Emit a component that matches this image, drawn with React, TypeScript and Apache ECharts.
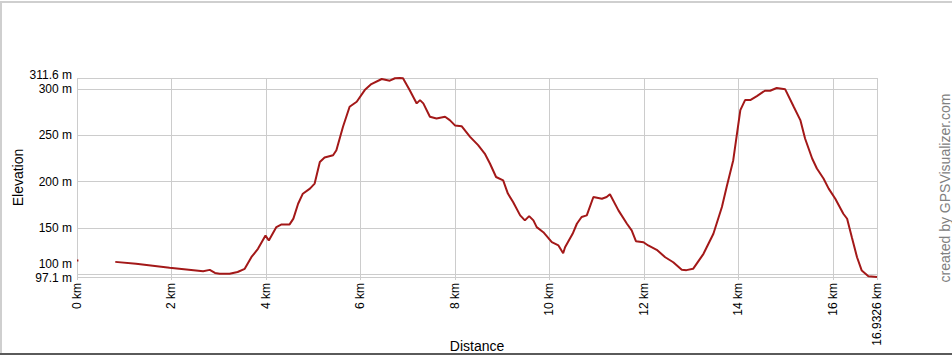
import React, { useEffect, useRef } from "react";
import * as echarts from "echarts";

// Distance along the track (km) and elevation (m); null marks the gap in the track
const distanceKm: number[] = [
  0, 0.03, 0.4, 0.81, 1.25, 1.96, 2.67, 2.81, 2.92, 3.02, 3.23, 3.4, 3.55, 3.69, 3.83, 3.99,
  4.06, 4.22, 4.33, 4.5, 4.58, 4.68, 4.78, 4.93, 5.03, 5.14, 5.24, 5.42, 5.49, 5.63,
  5.77, 5.92, 6.09, 6.23, 6.45, 6.62, 6.73, 6.83, 6.9, 7.04, 7.19, 7.26, 7.33, 7.47,
  7.61, 7.79, 7.89, 8.0, 8.14, 8.32, 8.49, 8.63, 8.74, 8.87, 9.02, 9.12, 9.23, 9.38,
  9.48, 9.57, 9.66, 9.73, 9.87, 10.05, 10.19, 10.29, 10.33, 10.49, 10.58, 10.68, 10.79,
  10.93, 11.11, 11.21, 11.28, 11.46, 11.64, 11.74, 11.83, 11.99, 12.09, 12.27, 12.45,
  12.62, 12.8, 12.9, 13.04, 13.26, 13.47, 13.65, 13.75, 13.89, 13.97, 14.04, 14.14,
  14.25, 14.39, 14.56, 14.67, 14.81, 14.99, 15.17, 15.31, 15.41, 15.56, 15.66, 15.8,
  15.91, 16.05, 16.22, 16.3, 16.4, 16.51, 16.61, 16.75, 16.9326,
];
const elevationM: (number | null)[] = [
  114.8, 114.8, null, 113.4, 111.3, 107.0, 103.4, 104.8, 101.5, 100.5, 100.5, 102.5, 105.9, 118.4, 127.5, 141.9,
  136.5, 150.9, 153.8, 153.8, 160, 176.1, 186.9, 192.4, 197.8, 221.1, 225.9, 228.4, 233.8, 259,
  280.6, 286, 298.6, 305.1, 310.5, 308.7, 311.3, 311.6, 311.3, 298.6, 284.2, 287.8, 284.2, 269.8,
  268.0, 269.8, 266.2, 260.5, 259.7, 248.1, 239.2, 230.2, 219.4, 204.9, 201.3, 187.0, 177.9, 163.5,
  158.1, 162.7, 158.1, 150.9, 145.4, 134.6, 131.1, 122.7, 129.2, 143.7, 154.5, 161.8, 163.5,
  183.3, 181.5, 183.3, 186.2, 168.9, 154.5, 147.3, 135.7, 134.6, 131.1, 126.4, 118.4,
  113.0, 104.8, 104.5, 105.9, 122.1, 143.7, 172.5, 194.1, 223.0, 251.8, 277.0, 287.8,
  287.8, 292.1, 297.9, 297.9, 300.8, 299.4, 280.6, 266.2, 246.4, 224.8, 214.0, 203.2,
  192.4, 181.5, 165.3, 159.9, 140.0, 118.4, 104.0, 98.0, 97.1,
];

const xTickValues: number[] = [0, 2, 4, 6, 8, 10, 12, 14, 16, 16.9326];
const yTickValues: number[] = [150, 200, 250, 300];
const yLowTick: number[] = [100];
const yTopTick: number[] = [311.6];
const yBottomTick: number[] = [97.1];
const xMin = 0;
const xMax = 16.9326;
const yMin = 97.1;
const yMax = 311.6;

const FONT = '"Liberation Sans", Arial, sans-serif';

export default function App() {
  const ref = useRef<HTMLDivElement>(null);

  useEffect(() => {
    if (!ref.current) return;
    const chart = echarts.init(ref.current, null, { renderer: "svg" });
    const data = distanceKm.map((d, i) => [d, elevationM[i] === null ? "-" : elevationM[i]]);

    const yLabelBase = {
      showMinLabel: true,
      showMaxLabel: true,
      hideOverlap: false,
      margin: 5,
      fontSize: 12,
      color: "#000",
      fontFamily: FONT,
      formatter: (v: number) => `${v} m`,
    };
    const splitLine = { show: true, lineStyle: { color: "#cccccc", width: 1 } };
    const makeY = (values: number[], labelExtra: object = {}, extra: object = {}) => ({
      type: "value",
      position: "left",
      offset: 0,
      min: yMin,
      max: yMax,
      axisLine: { show: false },
      axisTick: { show: false, customValues: values },
      axisLabel: { ...yLabelBase, customValues: values, ...labelExtra },
      splitLine,
      ...extra,
    });

    chart.setOption({
      animation: false,
      backgroundColor: "#ffffff",
      grid: { left: 77, right: 75, top: 78, bottom: 78, outerBoundsMode: "none" },
      xAxis: {
        type: "value",
        min: xMin,
        max: xMax,
        name: "Distance",
        nameLocation: "middle",
        nameGap: 62,
        nameMoveOverlap: false,
        nameTextStyle: { fontSize: 14, color: "#000", fontFamily: FONT },
        axisLine: { show: false },
        axisTick: { show: true, length: 3, lineStyle: { color: "#cccccc" }, customValues: xTickValues },
        axisLabel: {
          customValues: xTickValues,
          showMinLabel: true,
          showMaxLabel: true,
          hideOverlap: false,
          rotate: 90,
          margin: 6,
          fontSize: 12,
          color: "#000",
          fontFamily: FONT,
          formatter: (v: number) => `${v} km`,
        },
        splitLine,
      },
      yAxis: [
        makeY(yTickValues, {}, {
          name: "Elevation",
          nameLocation: "middle",
          nameGap: 52,
          nameMoveOverlap: false,
          nameTextStyle: { fontSize: 14, color: "#000", fontFamily: FONT },
        }),
        makeY(yLowTick, { verticalAlign: "bottom", lineHeight: 20 }),
        makeY(yTopTick, { verticalAlign: "bottom", lineHeight: 6 }),
        makeY(yBottomTick, { verticalAlign: "top", lineHeight: 2 }),
      ],
      series: [
        {
          type: "line",
          yAxisIndex: 0,
          data,
          showSymbol: false,
          symbol: "none",
          connectNulls: false,
          lineStyle: { color: "#a31818", width: 2 },
          itemStyle: { color: "#a31818" },
        },
      ],
      graphic: [
        { type: "rect", shape: { x: 0, y: 1, width: 952, height: 2 }, style: { fill: "#cfcfcf" }, silent: true },
        { type: "rect", shape: { x: 0, y: 1, width: 2, height: 352 }, style: { fill: "#cfcfcf" }, silent: true },
        { type: "rect", shape: { x: 0, y: 353, width: 952, height: 2 }, style: { fill: "#5a5a5a" }, silent: true },
        {
          type: "text",
          x: 945,
          y: 188,
          rotation: Math.PI / 2,
          style: {
            text: "created by GPSVisualizer.com",
            fontSize: 14,
            fontFamily: FONT,
            fill: "#808080",
            align: "center",
            verticalAlign: "middle",
          },
          silent: true,
        },
      ],
    });

    return () => chart.dispose();
  }, []);

  return (
    <div
      ref={ref}
      style={{ position: "fixed", left: 0, top: 0, width: 952, height: 355 }}
    />
  );
}
